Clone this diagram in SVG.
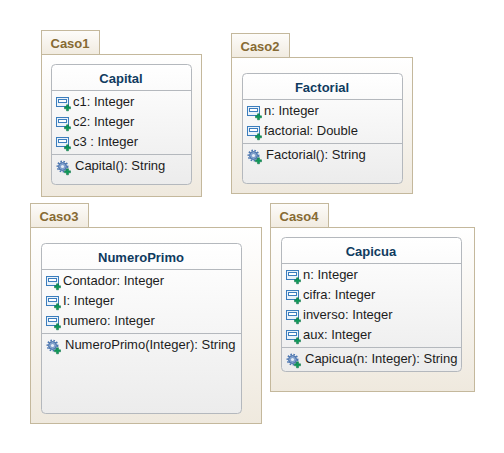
<svg xmlns="http://www.w3.org/2000/svg" width="504" height="453" viewBox="0 0 504 453">
<style>
text{font-family:"Liberation Sans",Arial,sans-serif;font-size:13px;fill:#1c1c1c}
.tab{fill:url(#tabG);stroke:#c4b89c;stroke-width:1}
.pkg{fill:url(#pkgG);stroke:#c4b89c;stroke-width:1}
.cls{fill:url(#clsG);stroke:#b4b8bd;stroke-width:1}
.sep{stroke:#b4b8bd;stroke-width:1;fill:none}
.pn{font-weight:bold;fill:#866a33}
.cn{font-weight:bold;fill:#0f3b5f;text-anchor:middle}
</style>
<defs>
<linearGradient id="tabG" x1="0" y1="0" x2="0" y2="1"><stop offset="0" stop-color="#fdfcfa"/><stop offset="1" stop-color="#f1ebe0"/></linearGradient>
<linearGradient id="pkgG" x1="0" y1="0" x2="0" y2="1"><stop offset="0" stop-color="#ffffff"/><stop offset="1" stop-color="#efe9de"/></linearGradient>
<linearGradient id="clsG" x1="0" y1="0" x2="0" y2="1"><stop offset="0" stop-color="#ffffff"/><stop offset="1" stop-color="#ececec"/></linearGradient>
<g id="plus"><path d="M-1-3h2v2h2v2h-2v2h-2v-2h-2v-2h2z" fill="#0f9a5a" stroke="#0a7042" stroke-width=".5"/></g>
<g id="attr">
<rect x=".5" y=".5" width="12" height="9" fill="#eaf2fa" stroke="#3b7dbd"/>
<rect x="2.500" y="2.500" width="8" height="3" fill="#fff" stroke="#3b7dbd"/>
<use href="#plus" x="11.500" y="10.800"/>
</g>
<g id="op">
<circle cx="6.500" cy="5.500" r="4" fill="#7f9fcb" stroke="#3c68a6" stroke-width="1"/>
<circle cx="6.500" cy="5.500" r="5.200" fill="none" stroke="#4a76b2" stroke-width="1.500" stroke-dasharray="1.600 1.500"/>
<circle cx="6.500" cy="5.500" r="1.600" fill="#e4ecf6"/>
<use href="#plus" x="11.500" y="10.800"/>
</g>
</defs>
<g id="caso1">
<rect class="pkg" x="41.500" y="54.500" width="160" height="142"/>
<rect class="tab" x="41.500" y="30.500" width="58" height="24"/>
<text class="pn" x="50.500" y="48">Caso1</text>
<g id="capital">
<rect class="cls" x="51.500" y="64.500" width="140" height="120" rx="4"/>
<path class="sep" d="M51.500 90.500h140M51.500 154.500h140"/>
<text class="cn" x="121" y="83">Capital</text>
<use href="#attr" x="56" y="97"/><text x="73" y="106">c1: Integer</text>
<use href="#attr" x="56" y="117"/><text x="73" y="126">c2: Integer</text>
<use href="#attr" x="56" y="137"/><text x="73" y="146">c3 : Integer</text>
<use href="#op" x="56" y="161"/><text x="75" y="170">Capital(): String</text>
</g>
</g>
<g id="caso2">
<rect class="pkg" x="231.500" y="57.500" width="181" height="136"/>
<rect class="tab" x="231.500" y="33.500" width="58" height="24"/>
<text class="pn" x="240.500" y="51">Caso2</text>
<g id="factorial">
<rect class="cls" x="242.500" y="73.500" width="160" height="110" rx="4"/>
<path class="sep" d="M242.500 99.500h160M242.500 143.500h160"/>
<text class="cn" x="322" y="92">Factorial</text>
<use href="#attr" x="247" y="106"/><text x="264" y="115">n: Integer</text>
<use href="#attr" x="247" y="126"/><text x="264" y="135">factorial: Double</text>
<use href="#op" x="247" y="150"/><text x="266" y="159">Factorial(): String</text>
</g>
</g>
<g id="caso3">
<rect class="pkg" x="30.500" y="227.500" width="231" height="196"/>
<rect class="tab" x="30.500" y="203.500" width="58" height="24"/>
<text class="pn" x="39.500" y="221">Caso3</text>
<g id="numeroprimo">
<rect class="cls" x="41.500" y="243.500" width="200" height="170" rx="4"/>
<path class="sep" d="M41.500 269.500h200M41.500 333.500h200"/>
<text class="cn" x="141" y="262">NumeroPrimo</text>
<use href="#attr" x="46" y="276"/><text x="63" y="285">Contador: Integer</text>
<use href="#attr" x="46" y="296"/><text x="63" y="305">I: Integer</text>
<use href="#attr" x="46" y="316"/><text x="63" y="325">numero: Integer</text>
<use href="#op" x="46" y="340"/><text x="65" y="349">NumeroPrimo(Integer): String</text>
</g>
</g>
<g id="caso4">
<rect class="pkg" x="270.500" y="227.500" width="204" height="164"/>
<rect class="tab" x="270.500" y="203.500" width="58" height="24"/>
<text class="pn" x="279.500" y="221">Caso4</text>
<g id="capicua">
<rect class="cls" x="281.500" y="237.500" width="180" height="134" rx="4"/>
<path class="sep" d="M281.500 263.500h180M281.500 347.500h180"/>
<text class="cn" x="371" y="256">Capicua</text>
<use href="#attr" x="286" y="270"/><text x="303" y="279">n: Integer</text>
<use href="#attr" x="286" y="290"/><text x="303" y="299">cifra: Integer</text>
<use href="#attr" x="286" y="310"/><text x="303" y="319">inverso: Integer</text>
<use href="#attr" x="286" y="330"/><text x="303" y="339">aux: Integer</text>
<use href="#op" x="286" y="354"/><text x="305" y="363">Capicua(n: Integer): String</text>
</g>
</g>
<g id="connectors"/>
</svg>
